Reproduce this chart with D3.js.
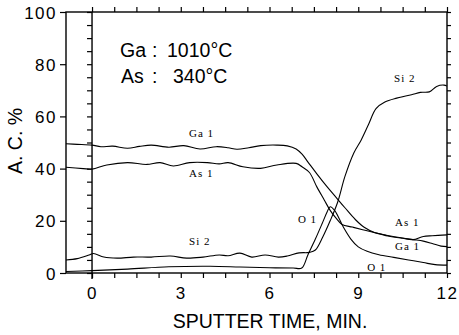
<!DOCTYPE html>
<html><head><meta charset="utf-8">
<script src="https://cdn.jsdelivr.net/npm/d3@7/dist/d3.min.js"></script>
<style>body{margin:0;background:#fff} svg{display:block}</style>
</head><body><svg id="c" width="459" height="335"></svg>
<script>
// ---- data (sputter time in min, atomic concentration %) ----
const xTickLabels = [0, 3, 6, 9, 12];
const yTickLabels = [0, 20, 40, 60, 80, 100];
const xMinorTicks = d3.range(0, 12.01, 0.75);
const yMinorTicks = d3.range(0, 100.1, 5);

const ga1 = [[-0.88,49.5],[-0.5,49.3],[0,49.0],[0.3,48.4],[0.7,48.6],[1.2,47.8],[1.6,48.5],[2.0,49.0],[2.6,48.2],[3.1,48.8],[3.65,47.5],[4.2,48.4],[4.6,48.0],[4.9,47.4],[5.3,48.0],[5.7,48.8],[6.25,49.0],[6.6,48.7],[6.9,47.5],[7.1,45.5],[7.3,42.5],[7.6,38],[7.95,33],[8.25,29],[8.55,25],[8.9,20.5],[9.2,17.5],[9.55,15.5],[10.0,14.4],[10.5,13.4],[10.85,12.8],[11.2,12.2],[11.5,11.3],[11.8,10.3],[12.0,10.1]];
const as1 = [[-0.88,40.5],[-0.3,40.0],[0,39.8],[0.5,41.4],[1.2,42.3],[1.85,41.6],[2.3,42.3],[2.75,41.0],[3.3,42.3],[3.9,42.3],[4.3,41.8],[4.6,42.3],[5.1,40.7],[5.7,40.1],[6.25,41.4],[6.9,42.0],[7.1,40.7],[7.35,38.5],[7.6,33],[7.85,28],[8.05,24],[8.25,21],[8.45,18.6],[8.8,17.6],[9.15,16.6],[9.5,15.6],[10.0,14.2],[10.5,13.3],[10.85,12.8],[11.2,14.0],[11.5,14.3],[12.0,14.6]];
const si2 = [[-0.88,5.0],[-0.5,5.5],[-0.1,6.9],[0.05,7.5],[0.4,6.1],[0.85,5.7],[1.4,6.1],[2.0,6.1],[2.65,6.5],[3.2,5.7],[3.75,6.1],[4.3,6.9],[4.6,6.6],[5.0,7.6],[5.4,6.1],[5.85,6.9],[6.3,6.1],[6.6,6.5],[7.0,7.7],[7.35,7.9],[7.55,8.8],[7.8,13.8],[8.05,20],[8.3,27],[8.55,37],[8.85,46],[9.1,51],[9.35,57],[9.6,63],[9.9,65.5],[10.3,67],[10.8,68.3],[11.1,69.2],[11.4,69.4],[11.65,71.5],[11.9,72],[12.0,71.6]];
const o1 = [[-0.88,0.6],[0,0.9],[1.2,1.5],[2.6,2.4],[4.0,2.6],[5.0,2.3],[6.0,2.0],[6.8,1.9],[7.09,1.9],[7.3,7],[7.55,13],[7.8,19.5],[7.95,23.5],[8.05,25.4],[8.2,24],[8.5,17.5],[8.75,13],[9.0,10],[9.3,8.3],[9.7,7],[10.2,6],[10.7,5],[11.2,4],[11.6,3.2],[12.0,3.0]];

const seriesLabels = [
  {text:"Ga 1", t:3.28, v:52.1},
  {text:"As 1", t:3.28, v:36.8},
  {text:"Si 2", t:3.28, v:10.7},
  {text:"Si 2", t:10.21, v:73.2},
  {text:"O 1",  t:6.96, v:19.2},
  {text:"As 1", t:10.24, v:18.0},
  {text:"Ga 1", t:10.24, v:8.8},
  {text:"O 1",  t:9.3,  v:0.8}
];

// ---- drawing ----
const svg = d3.select("#c");
const x = d3.scaleLinear().domain([-0.88, 12]).range([66, 447]);
const y = d3.scaleLinear().domain([0, 100]).range([273, 12]);
const FONT = "'Liberation Sans', Arial, Helvetica, sans-serif";

function styleAxis(g){
  g.select(".domain").remove();
  g.selectAll(".tick line").attr("stroke","#000").attr("stroke-width",1.2);
}

// frame
svg.append("rect").attr("x", x(-0.88)).attr("y", y(100))
  .attr("width", x(12)-x(-0.88)).attr("height", y(0)-y(100))
  .attr("fill","none").attr("stroke","#000").attr("stroke-width",1.4);
// zero-time line
svg.append("line").attr("x1", x(0)).attr("x2", x(0)).attr("y1", y(100)).attr("y2", y(0)+6)
  .attr("stroke","#000").attr("stroke-width",1.4);

// minor ticks
svg.append("g").attr("transform",`translate(0,${y(0)})`)
  .call(d3.axisBottom(x).tickValues(xMinorTicks).tickSize(5).tickSizeOuter(0).tickFormat(""))
  .call(styleAxis);
svg.append("g").attr("transform",`translate(0,${y(100)})`)
  .call(d3.axisTop(x).tickValues(xMinorTicks).tickSize(5).tickSizeOuter(0).tickFormat(""))
  .call(styleAxis);
svg.append("g").attr("transform",`translate(${x(0)},0)`)
  .call(d3.axisLeft(y).tickValues(yMinorTicks).tickSize(5).tickSizeOuter(0).tickFormat(""))
  .call(styleAxis);
svg.append("g").attr("transform",`translate(${x(12)},0)`)
  .call(d3.axisRight(y).tickValues(yMinorTicks).tickSize(4).tickSizeOuter(0).tickFormat(""))
  .call(styleAxis);

// left labelled axis
const ly = svg.append("g").attr("transform",`translate(${x(-0.88)},0)`)
  .call(d3.axisLeft(y).tickValues(yTickLabels).tickSize(6).tickPadding(3).tickSizeOuter(0))
  .call(styleAxis);
ly.selectAll("text").attr("font-family",FONT).attr("font-size",17)
  .attr("letter-spacing",1.5).attr("fill","#000").attr("dy","0.36em");

// bottom labels
const bx = svg.append("g").attr("transform",`translate(0,${y(0)})`)
  .call(d3.axisBottom(x).tickValues(xTickLabels).tickSize(0).tickPadding(14).tickSizeOuter(0))
  .call(styleAxis);
bx.selectAll("text").attr("font-family",FONT).attr("font-size",17)
  .attr("letter-spacing",1.5).attr("fill","#000");

// axis titles
svg.append("text").attr("x",270).attr("y",328).attr("text-anchor","middle")
  .attr("font-family",FONT).attr("font-size",19.5).text("SPUTTER TIME, MIN.");
svg.append("text").attr("transform","translate(22,141) rotate(-90)").attr("text-anchor","middle")
  .attr("font-family",FONT).attr("font-size",19.5).text("A. C. %");

// source conditions
const cond = svg.append("g").attr("font-family",FONT).attr("font-size",19.5).attr("fill","#000");
cond.append("text").attr("x",120).attr("y",57).text("Ga");
cond.append("text").attr("x",152).attr("y",57).text(":");
cond.append("text").attr("x",167).attr("y",57).text("1010°C");
cond.append("text").attr("x",121).attr("y",83).text("As");
cond.append("text").attr("x",152).attr("y",83).text(":");
cond.append("text").attr("x",173).attr("y",83).text("340°C");

// curves
const line = d3.line().x(d=>x(d[0])).y(d=>y(d[1])).curve(d3.curveCatmullRom.alpha(0.5));
[ga1, as1, si2, o1].forEach(s=>{
  svg.append("path").datum(s).attr("d",line).attr("fill","none")
    .attr("stroke","#000").attr("stroke-width",1.1).attr("stroke-linejoin","round");
});

// series labels
svg.append("g").selectAll("text").data(seriesLabels).join("text")
  .attr("x",d=>x(d.t)).attr("y",d=>y(d.v))
  .attr("font-family","'Liberation Serif','DejaVu Serif',serif")
  .attr("font-size",11).attr("letter-spacing",1).attr("fill","#000")
  .text(d=>d.text);
</script></body></html>
